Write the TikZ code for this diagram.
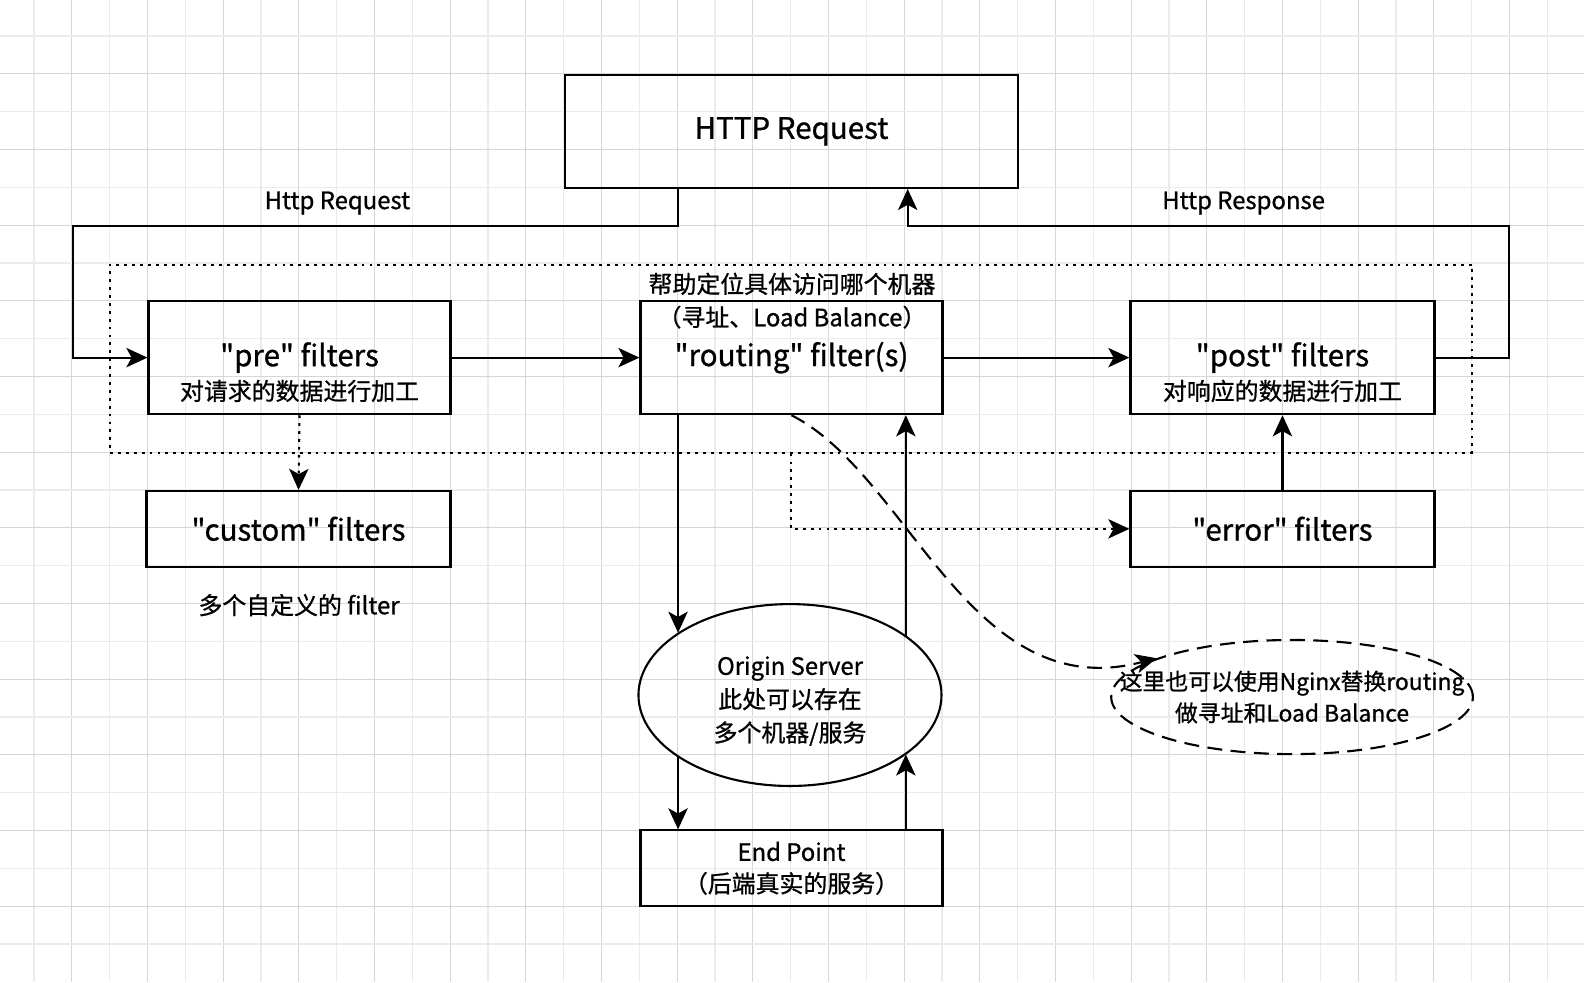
\documentclass[tikz,border=0pt]{standalone}
\usepackage{fontspec}
\newfontfamily\cjk{Noto Sans CJK SC}[FakeBold=0.9]
\usetikzlibrary{arrows.meta,shapes.geometric,calc}
\definecolor{gridA}{HTML}{EBEBEB}
\definecolor{gridB}{HTML}{D6D6D6}

\begin{document}
\begin{tikzpicture}[x=0.020204cm, y=-0.020204cm,
    box/.style={draw=black, line width=1.2pt, inner sep=0pt, align=center},
    big/.style={font=\cjk\fontsize{16.8}{20}\selectfont},
    small/.style={font=\cjk\fontsize{13.6}{18}\selectfont, align=center},
    arr/.style={line width=1.2pt, -{Stealth[length=12pt, width=11pt, inset=3pt]}},
    dotline/.style={line width=1.2pt, dash pattern=on 1.6pt off 2.9pt},
    dashline/.style={line width=1.2pt, dash pattern=on 8.5pt off 4.8pt}]

            \useasboundingbox (0,0) rectangle (1568,972.1);

            % grid
            \foreach \k in {0,...,40}{
                \ifodd\k \def\gc{gridB}\else \def\gc{gridA}\fi
                \draw[\gc, line width=0.6pt] ({33.66+37.45*\k},0) -- ({33.66+37.45*\k},972.1);
            }
            \foreach \k in {0,...,24}{
                \ifodd\k \def\gc{gridB}\else \def\gc{gridA}\fi
                \draw[\gc, line width=0.6pt] (0,{35.64+37.45*\k}) -- (1568,{35.64+37.45*\k});
            }

            % boxes
            \node[box, big, minimum width=9.07cm, minimum height=2.263cm] (HR) at (783.5,130) {HTTP Request};
            \node[box, dotline, minimum width=27.235cm, minimum height=3.758cm] (FLT) at (783,355) {};
            \node[box, big, minimum width=6.04cm, minimum height=2.263cm] (PRE) at (296.5,354) {"pre" filters};
            \node[box, big, minimum width=6.04cm, minimum height=2.263cm] (ROUTE) at (783.5,354) {"routing" filter(s)};
            \node[box, big, minimum width=6.08cm, minimum height=2.263cm] (POST) at (1269.5,354) {"post" filters};
            \node[box, big, minimum width=6.08cm, minimum height=1.515cm] (CUSTOM) at (295.5,523.5) {"custom" filters};
            \node[box, big, minimum width=6.08cm, minimum height=1.515cm] (ERR) at (1269.5,523.5) {"error" filters};
            \node[box, ellipse, minimum width=6.06cm, minimum height=3.637cm] (ORIG) at (782,688) {};
            \node[box, small, minimum width=6.04cm, minimum height=1.515cm] (END) at (783.5,859.5) {End Point\\（后端真实的服务）};
            \node[box, dashline, ellipse, minimum width=7.233cm, minimum height=2.283cm] (NGX) at (1279,690) {};

            % texts
            \node[small, font=\cjk\fontsize{13.6}{19}\selectfont] (ORIGtxt) at (782,694) {Origin Server\\此处可以存在\\多个机器/服务};
            \node[small, font=\cjk\fontsize{13}{18}\selectfont] (NGXtxt) at (1279,690) {这里也可以使用Nginx替换routing\\做寻址和Load Balance};
            \node[small] (PREtxt) at (296.5,387) {对请求的数据进行加工};
            \node[small] (POSTtxt) at (1269.5,387) {对响应的数据进行加工};
            \node[small] (ROUTEtop) at (784,281) {帮助定位具体访问哪个机器};
            \node[small] (ROUTEsub) at (784,314) {（寻址、Load Balance）};
            \node[small] (CUSTOMtxt) at (296,599) {多个自定义的 filter};
            \node[small] (REQlbl) at (334,201) {Http Request};
            \node[small] (RESlbl) at (1231,201) {Http Response};

            % helper points
            \coordinate (HRa) at ($(HR.south west)!0.25!(HR.south east)$);
            \coordinate (HRb) at ($(HR.south west)!0.755!(HR.south east)$);
            \coordinate (L1) at (72,224);
            \coordinate (R1) at (1494,224);
            \coordinate (RA) at ($(ROUTE.south west)!0.127!(ROUTE.south east)$);
            \coordinate (RB) at ($(ROUTE.south west)!0.876!(ROUTE.south east)$);

            % connectors
            \draw[arr] (HRa) |- (L1) |- (PRE.west);
            \draw[arr] (POST.east) -| (R1) -| (HRb);
            \draw[arr] (PRE.east) -- (ROUTE.west);
            \draw[arr] (ROUTE.east) -- (POST.west);
            \draw[arr, dotline] (PRE.south) -- (CUSTOM.north);
            \draw[arr, dotline] (FLT.south) |- (ERR.west);
            \draw[arr] (ERR.north) -- (POST.south);

            \draw[arr] (RA) -- (RA |- ORIG.151);
            \draw[arr] (RB |- ORIG.27) -- (RB);
            \draw[arr] (RA |- ORIG.-151) -- (RA |- END.north);
            \draw[arr] (RB |- END.north) -- (RB |- ORIG.-27);

            \draw[arr, dashline] (ROUTE.south) .. controls (900,470) and (960,700) .. (NGX.164);
        \end{tikzpicture}
\end{document}
